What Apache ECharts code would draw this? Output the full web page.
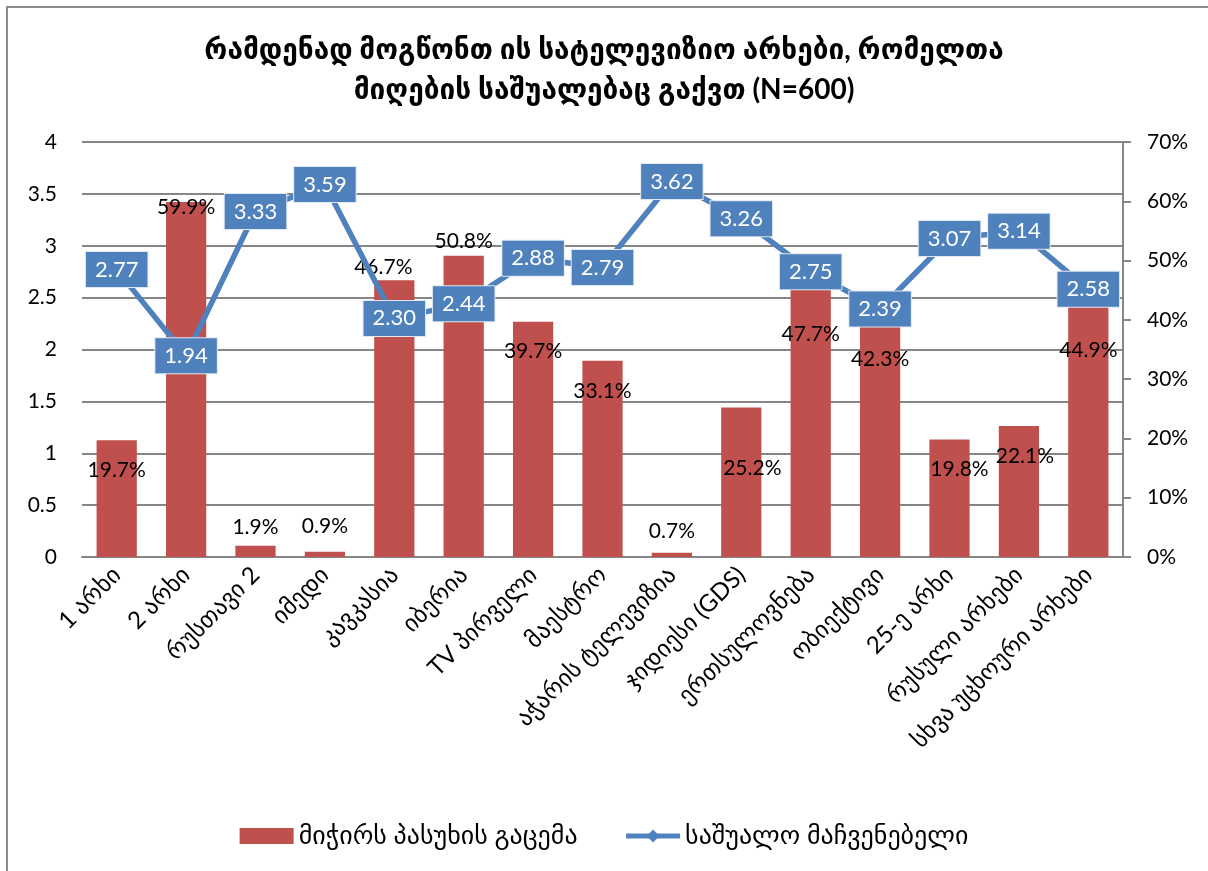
<!DOCTYPE html>
<html>
<head>
<meta charset="utf-8">
<script src="https://cdn.jsdelivr.net/npm/echarts@6/dist/echarts.min.js"></script>
<style>
html,body{margin:0;padding:0;background:#fff;}
#chart{width:1208px;height:871px;}
</style>
</head>
<body>
<div id="chart"></div>
<script>
const titleText = 'რამდენად მოგწონთ ის სატელევიზიო არხები, რომელთა\nმიღების საშუალებაც გაქვთ (N=600)';
const categories = ['1 არხი','2 არხი','რუსთავი 2','იმედი','კავკასია','იბერია','TV პირველი','მაესტრო','აჭარის ტელევიზია','ჯიდიესი (GDS)','ერთსულოვნება','ობიექტივი','25-ე არხი','რუსული არხები','სხვა უცხოური არხები'];
const seriesNames = ['მიჭირს პასუხის გაცემა','საშუალო მაჩვენებელი'];
const hardToAnswer = [19.7,59.9,1.9,0.9,46.7,50.8,39.7,33.1,0.7,25.2,47.7,42.3,19.8,22.1,44.9];
const averageScore = [2.77,1.94,3.33,3.59,2.30,2.44,2.88,2.79,3.62,3.26,2.75,2.39,3.07,3.14,2.58];
const leftTicks = {min:0,max:4,interval:0.5};
const rightTicks = {min:0,max:70,interval:10};

// label nudges (style only)
const barLabelShift = [[0,40],[0,15],[0,-9],[0,-15],[-11,-3],[0,-5],[0,40],[0,40],[0,-12],[11,71],[0,70],[0,63],[10,40],[6,40],[0,69]];

const FONT = "Lato, 'DejaVu Sans', sans-serif";
const chart = echarts.init(document.getElementById('chart'));
chart.setOption({
  animation:false,
  backgroundColor:'#fff',
  graphic:[{type:'rect',shape:{x:7,y:7,width:1300,height:1000},style:{fill:'none',stroke:'#8c8c8c',lineWidth:2},silent:true}],
  title:{text:titleText,left:'center',top:25,textStyle:{fontFamily:FONT,fontSize:28,fontWeight:'bold',color:'#000',lineHeight:40}},
  legend:{top:818,left:'center',itemGap:46,itemWidth:54,itemHeight:16,textStyle:{fontFamily:FONT,fontSize:26,color:'#000'},
    data:[{name:seriesNames[0],icon:'rect'},{name:seriesNames[1],lineStyle:{width:5,color:'#4F81BD'}}]},
  grid:{left:82,right:85,top:142,bottom:314,containLabel:false},
  xAxis:{type:'category',data:categories,
    axisLine:{show:true,lineStyle:{color:'#868686',width:2}},axisTick:{show:false},
    axisLabel:{rotate:45,interval:0,margin:14,fontFamily:FONT,fontSize:24,color:'#000'}},
  yAxis:[
    {type:'value',min:leftTicks.min,max:leftTicks.max,interval:leftTicks.interval,position:'left',
     axisLine:{show:false},axisTick:{show:false},
     axisLabel:{margin:25,fontFamily:FONT,fontSize:21,color:'#000'},
     splitLine:{show:true,lineStyle:{color:'#868686',width:2}}},
    {type:'value',min:rightTicks.min,max:rightTicks.max,interval:rightTicks.interval,position:'right',
     axisLine:{show:true,lineStyle:{color:'#868686',width:2}},axisTick:{show:true,length:8,lineStyle:{color:'#868686',width:2}},
     axisLabel:{margin:24,formatter:'{value}%',fontFamily:FONT,fontSize:21,color:'#000'},
     splitLine:{show:false}}
  ],
  series:[
    {name:seriesNames[0],type:'bar',yAxisIndex:1,barWidth:'58%',
     itemStyle:{color:'#C0504D'},
     data:hardToAnswer.map((v,i)=>({value:v,label:{offset:barLabelShift[i]}})),
     label:{show:true,position:'top',distance:0,formatter:p=>p.value.toFixed(1)+'%',fontFamily:FONT,fontSize:21,color:'#000',lineHeight:20},
     z:2},
    {name:seriesNames[1],type:'line',yAxisIndex:0,data:averageScore,
     symbol:'diamond',symbolSize:16,showAllSymbol:true,
     lineStyle:{color:'#4F81BD',width:5.5},itemStyle:{color:'#4F81BD'},
     label:{show:true,position:'inside',formatter:p=>p.value.toFixed(2),fontFamily:FONT,fontSize:22,color:'#fff',
       backgroundColor:'#4F81BD',borderColor:'#dfe7f2',borderWidth:1,padding:[7,9,6,9]},
     z:5}
  ]
});
</script>
</body>
</html>
